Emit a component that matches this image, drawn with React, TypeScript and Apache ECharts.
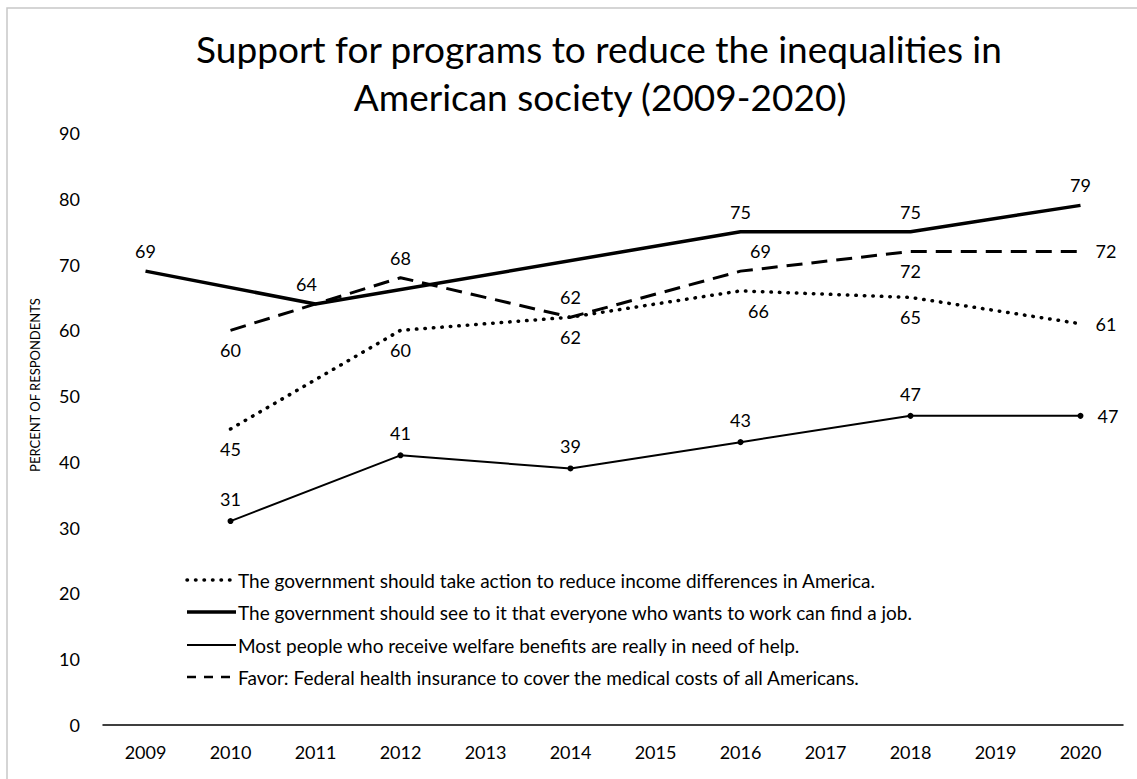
import React, { useEffect, useRef } from "react";
import * as echarts from "echarts";

const years = ["2009", "2010", "2011", "2012", "2013", "2014", "2015", "2016", "2017", "2018", "2019", "2020"];
const incomeDiff = [null, 45, null, 60, null, 62, null, 66, null, 65, null, 61];
const jobs = [69, null, 64, null, null, null, null, 75, null, 75, null, 79];
const welfare = [null, 31, null, 41, null, 39, null, 43, null, 47, null, 47];
const healthIns = [null, 60, null, 68, null, 62, null, 69, null, 72, null, 72];

const seriesNames = [
  "The government should take action to reduce income differences in America.",
  "The government should see to it that everyone who wants to work can find a job.",
  "Most people who receive welfare benefits are really in need of help.",
  "Favor: Federal health insurance to cover the medical costs of all Americans.",
];

const titleLines = ["Support for programs to reduce the inequalities in", "American society (2009-2020)"];
const yAxisTitle = "PERCENT OF RESPONDENTS";

// label placement (style only)
const incomePos = ["", "bottom", "", "bottom", "", "top", "", "bottom", "", "bottom", "", "right"];
const jobsPos = ["top", "", "top", "", "", "", "", "top", "", "top", "", "top"];
const welfarePos = ["", "top", "", "top", "", "top", "", "top", "", "top", "", "right"];
const healthPos = ["", "bottom", "", "top", "", "bottom", "", "top", "", "bottom", "", "right"];
const incomeShift = [0, 0, 0, 0, 0, 0, 0, 18, 0, 0, 0, 0];
const jobsShift = [0, 0, -9, 0, 0, 0, 0, 0, 0, 0, 0, 0];
const healthShift = [0, 0, 0, 0, 0, 0, 0, 20, 0, 0, 0, 0];
const zeroShift = [0, 0, 0, 0, 0, 0, 0, 0, 0, 0, 0, 0];

const FONT = "Lato, 'Open Sans', sans-serif";

function buildData(values: (number | null)[], pos: string[], shift: number[]) {
  return values.map((v, i) =>
    v === null
      ? null
      : {
          value: v,
          label: {
            position: pos[i] || "top",
            distance: pos[i] === "right" ? 14 : 10,
            offset: [shift[i], 0],
          },
        }
  );
}

export default function App() {
  const ref = useRef<HTMLDivElement>(null);
  useEffect(() => {
    if (!ref.current) return;
    const chart = echarts.init(ref.current, null, { renderer: "svg" });
    const labelBase = { show: true, color: "#000", fontSize: 18, fontFamily: FONT };
    const legendRows = [580, 612, 645, 677];
    const legendStyles = [
      { lineWidth: 3.5, lineDash: [0.5, 8], lineCap: "round" },
      { lineWidth: 3.5, lineDash: null, lineCap: "butt" },
      { lineWidth: 2, lineDash: null, lineCap: "butt" },
      { lineWidth: 2.5, lineDash: [9, 8], lineCap: "butt" },
    ];
    const legendGraphics: any[] = [];
    seriesNames.forEach((name, i) => {
      legendGraphics.push({
        type: "line",
        shape: { x1: 187, y1: legendRows[i], x2: 236, y2: legendRows[i] },
        style: {
          stroke: "#000",
          lineWidth: legendStyles[i].lineWidth,
          lineDash: legendStyles[i].lineDash,
          lineCap: legendStyles[i].lineCap,
        },
      });
      legendGraphics.push({
        type: "text",
        x: 238,
        y: legendRows[i],
        style: { text: name, fill: "#000", font: `19px ${FONT}`, textVerticalAlign: "middle", textAlign: "left" },
      });
    });

    const hiddenSymbol = {
      symbol: "circle",
      symbolSize: 2,
      showSymbol: true,
      itemStyle: { color: "rgba(0,0,0,0)" },
    };

    chart.setOption({
      animation: false,
      backgroundColor: "#fff",
      grid: { left: 103, right: 14, top: 133, bottom: 54, containLabel: false },
      xAxis: {
        type: "category",
        data: years,
        boundaryGap: true,
        axisLine: { lineStyle: { color: "#000", width: 1.5 } },
        axisTick: { show: false },
        axisLabel: { color: "#000", fontSize: 18, fontFamily: FONT, margin: 18 },
      },
      yAxis: {
        type: "value",
        min: 0,
        max: 90,
        interval: 10,
        axisLine: { show: false },
        axisTick: { show: false },
        splitLine: { show: false },
        axisLabel: { color: "#000", fontSize: 18, fontFamily: FONT, margin: 23 },
      },
      graphic: [
        {
          type: "rect",
          shape: { x: 7, y: 8, width: 1140, height: 790 },
          style: { fill: "none", stroke: "#c8c8c8", lineWidth: 1.5 },
          silent: true,
        },
        {
          type: "text",
          x: 599,
          y: 48,
          style: { text: titleLines[0], fill: "#000", font: `37px ${FONT}`, textAlign: "center", textVerticalAlign: "middle" },
        },
        {
          type: "text",
          x: 600,
          y: 96,
          style: { text: titleLines[1], fill: "#000", font: `37px ${FONT}`, textAlign: "center", textVerticalAlign: "middle" },
        },
        {
          type: "text",
          x: 35,
          y: 385,
          rotation: Math.PI / 2,
          style: { text: yAxisTitle, fill: "#000", font: `13px ${FONT}`, textAlign: "center", textVerticalAlign: "middle" },
        },
        ...legendGraphics,
      ],
      series: [
        {
          name: seriesNames[0],
          type: "line",
          data: buildData(incomeDiff, incomePos, incomeShift),
          connectNulls: true,
          ...hiddenSymbol,
          lineStyle: { color: "#000", width: 3.5, type: [0.5, 8], cap: "round" },
          label: labelBase,
          z: 3,
        },
        {
          name: seriesNames[1],
          type: "line",
          data: buildData(jobs, jobsPos, jobsShift),
          connectNulls: true,
          ...hiddenSymbol,
          lineStyle: { color: "#000", width: 3.5 },
          label: labelBase,
          z: 4,
        },
        {
          name: seriesNames[2],
          type: "line",
          data: buildData(welfare, welfarePos, zeroShift),
          connectNulls: true,
          symbol: "circle",
          symbolSize: 6,
          itemStyle: { color: "#000" },
          lineStyle: { color: "#000", width: 2 },
          label: labelBase,
          z: 2,
        },
        {
          name: seriesNames[3],
          type: "line",
          data: buildData(healthIns, healthPos, healthShift),
          connectNulls: true,
          ...hiddenSymbol,
          lineStyle: { color: "#000", width: 3, type: [16, 9] },
          label: labelBase,
          z: 3,
        },
      ],
    });
    return () => chart.dispose();
  }, []);
  return <div ref={ref} style={{ position: "fixed", left: 0, top: 0, width: 1137, height: 779 }} />;
}
